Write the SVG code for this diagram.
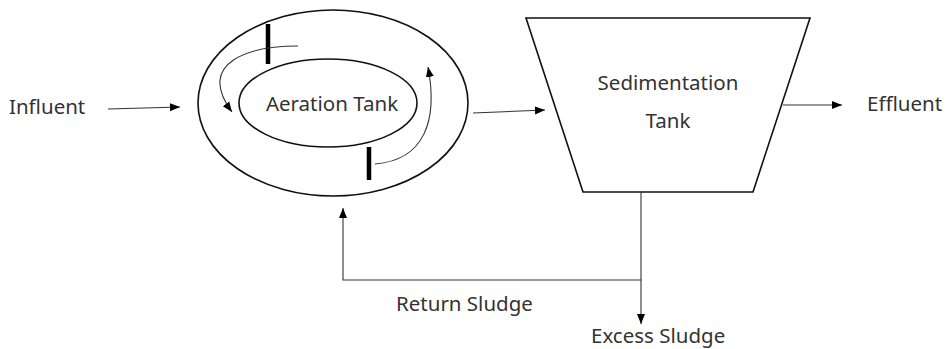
<svg xmlns="http://www.w3.org/2000/svg" width="946" height="349" viewBox="0 0 946 349">
<defs>
<style>
.t{font-family:"Noto Sans","Open Sans",sans-serif;font-size:20.5px;fill:#333}
.s{fill:none;stroke:#111;stroke-width:1.6}
.c{fill:none;stroke:#333;stroke-width:1.1}
.bar{stroke:#000;stroke-width:4.5}
</style>
<marker id="ah" viewBox="0 0 10 10" refX="10" refY="5" markerWidth="10" markerHeight="10" markerUnits="userSpaceOnUse" orient="auto">
<path d="M0,1 L10,5 L0,9 Z" fill="#000"/>
</marker>
</defs>
<rect width="946" height="349" fill="#fff"/>
<g id="influent"><text class="t" x="9" y="114">Influent</text></g>
<g id="aeration-tank">
<ellipse class="s" cx="333" cy="103" rx="135" ry="93"/>
<ellipse class="s" cx="328" cy="103" rx="89" ry="44"/>
<line class="bar" x1="268" y1="24" x2="268" y2="64"/>
<line class="bar" x1="369" y1="147" x2="369" y2="180"/>
<text class="t" x="332" y="111" text-anchor="middle">Aeration Tank</text>
</g>
<g id="sedimentation-tank">
<path class="s" d="M526,18 L810,18 L753,192 L583,192 Z"/>
<text class="t" x="668" y="90" text-anchor="middle">Sedimentation</text>
<text class="t" x="668" y="128" text-anchor="middle">Tank</text>
</g>
<g id="effluent"><text class="t" x="867" y="111">Effluent</text></g>
<g id="return-sludge"><text class="t" x="396" y="311">Return Sludge</text></g>
<g id="excess-sludge"><text class="t" x="591" y="343">Excess Sludge</text></g>
<g id="connectors">
<line class="c" x1="108" y1="109" x2="180" y2="107" marker-end="url(#ah)"/>
<path class="c" d="M298,46 C250,46 195,62 232,112" marker-end="url(#ah)"/>
<path class="c" d="M375,164 C425,160 438,120 428,67" marker-end="url(#ah)"/>
<line class="c" x1="473" y1="113" x2="545" y2="110" marker-end="url(#ah)"/>
<line class="c" x1="783" y1="105" x2="842" y2="105" marker-end="url(#ah)"/>
<line class="c" x1="641" y1="192" x2="641" y2="324" marker-end="url(#ah)"/>
<polyline class="c" points="641,280 343,280 343,208" marker-end="url(#ah)"/>
</g>
</svg>
